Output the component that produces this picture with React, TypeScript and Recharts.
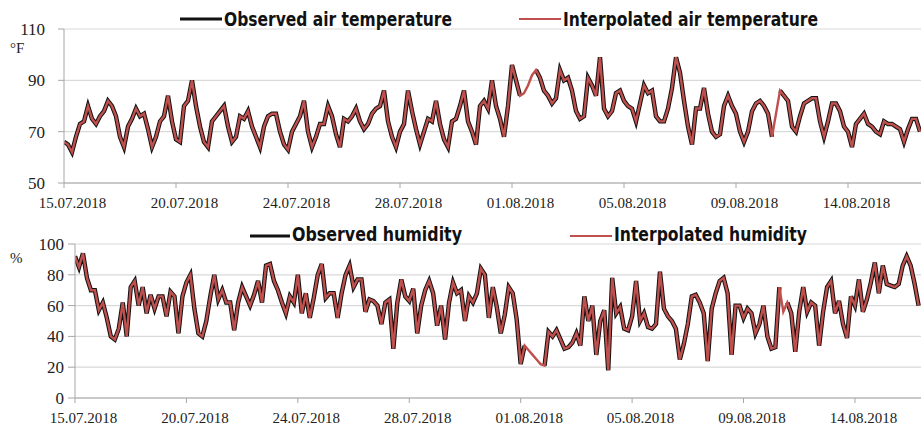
import { CartesianGrid, Legend, Line, LineChart, XAxis, YAxis } from "recharts";

const dateLabels = [
  "15.07.2018",
  "20.07.2018",
  "24.07.2018",
  "28.07.2018",
  "01.08.2018",
  "05.08.2018",
  "09.08.2018",
  "14.08.2018"
];
const dateTickIndex = [0, 28, 56, 84, 112, 140, 168, 196];

const tempTicks = [50, 70, 90, 110];
const humTicks = [0, 20, 40, 60, 80, 100];

// air temperature, °F (null = no observation)
const tempObserved = [
  66, 65, 62, 68, 73, 74, 80, 75, 73, 76,
  78, 82, 80, 76, 68, 64, 72, 75, 79, 76,
  77, 71, 64, 68, 74, 76, 84, 74, 67, 66,
  80, 82, 90, 80, 72, 66, 64, 74, 76, 78,
  80, 72, 66, 68, 76, 75, 78, 72, 68, 64,
  72, 76, 77, 77, 70, 65, 63, 70, 73, 76,
  82, 70, 64, 68, 73, 73, 80, 76, 69, 64,
  75, 74, 76, 79, 74, 71, 73, 77, 79, 80,
  86, 74, 68, 64, 70, 73, 86, 78, 71, 65,
  70, 75, 74, 82, 73, 67, 64, 74, 75, 80,
  86, 74, 70, 65, 80, 82, 79, 90, 80, 75,
  68, 80, 96, 90, 84, null, null, null, 94, 91,
  86, 84, 81, 83, 94, 90, 91, 86, 78, 75,
  76, 91, 88, 84, 99, 79, 76, 78, 85, 86,
  82, 80, 79, 74, 81, 88, 85, 86, 76, 74,
  74, 79, 87, 99, 93, 82, 72, 65, 79, 79,
  87, 77, 70, 68, 69, 80, 84, 80, 77, 70,
  66, 70, 78, 81, 82, 80, 77, 68, null, 86,
  84, 82, 72, 70, 76, 81, 82, 83, 83, 74,
  68, 74, 81, 81, 78, 72, 70, 64, 73, 75,
  77, 73, 72, 70, 69, 74, 73, 73, 72, 71,
  66, 71, 75, 75, 70
];
const tempGapIndex = [115, 116, 117, 178];
const tempGapValue = [85, 88, 92, 77];

// humidity, %
const humObserved = [
  92, 85, 94, 78, 70, 70, 57, 62, 52, 40,
  38, 45, 62, 40, 72, 76, 60, 72, 55, 67,
  58, 66, 66, 53, 69, 66, 42, 66, 75, 80,
  58, 42, 40, 50, 66, 80, 64, 70, 62, 62,
  44, 62, 72, 66, 60, 67, 76, 62, 86, 87,
  76, 70, 62, 55, 66, 62, 80, 55, 68, 52,
  65, 80, 87, 65, 68, 68, 52, 68, 80, 86,
  72, 77, 77, 56, 64, 63, 60, 48, 62, 64,
  32, 62, 77, 66, 63, 71, 42, 60, 70, 76,
  68, 47, 60, 38, 62, 75, 68, 70, 50, 66,
  62, 68, 84, 80, 52, 72, 59, 42, 54, 72,
  68, 51, 22, 34, null, null, null, null, 21, 43,
  40, 44, 38, 32, 33, 36, 42, 34, 66, 50,
  60, 28, 50, 57, 18, 78, 55, 59, 45, 44,
  53, 76, 50, 55, 46, 45, 48, 82, 58, 53,
  50, 45, 25, 35, 48, 66, 67, 62, 55, 24,
  58, 68, 76, 78, 68, 28, 60, 60, 52, 58,
  55, 42, 48, 60, 40, 32, 33, 72, null, 62,
  55, 30, 56, 72, 56, 62, 60, 34, 56, 72,
  76, 55, 63, 48, 39, 66, 60, 77, 56, 64,
  75, 88, 68, 86, 74, 73, 72, 74, 86, 92,
  86, 74, 60
];
const humGapIndex = [114, 115, 116, 117, 178];
const humGapValue = [31, 28, 25, 22, 56];

const OBS = "#111111";
const INTERP = "#c0504d";
const AXIS = "#a6a6a6";
const GRID = "#d9d9d9";
const SERIF = "Times New Roman, Liberation Serif, DejaVu Serif, serif";

function buildRows(observed: (number | null)[], gapIndex: number[], gapValue: number[]) {
  return observed.map((v, i) => {
    const g = gapIndex.indexOf(i);
    return { i, observed: v, interpolated: v ?? (g >= 0 ? gapValue[g] : null) };
  });
}

const tempRows = buildRows(tempObserved, tempGapIndex, tempGapValue);
const humRows = buildRows(humObserved, humGapIndex, humGapValue);

interface LegendItem {
  label: string;
  color: string;
  width: number;
  x1: number;
  x2: number;
  textLen: number;
}

function LegendRow({ items, lineY }: { items: LegendItem[]; lineY: number }) {
  return (
    <div style={{ height: 29, overflow: "visible" }}>
      <svg width={921} height={29} style={{ display: "block", overflow: "visible" }}>
        {items.map((it) => (
          <g key={it.label}>
            <line x1={it.x1} x2={it.x2} y1={lineY} y2={lineY} stroke={it.color} strokeWidth={it.width} />
            <text
              x={it.x2 + 2}
              y={26}
              fontFamily="DejaVu Sans"
              fontWeight={700}
              fontSize={20}
              fill="#111"
              textLength={it.textLen}
              lengthAdjust="spacingAndGlyphs"
            >
              {it.label}
            </text>
          </g>
        ))}
      </svg>
    </div>
  );
}

function DateTick(props: any) {
  const { x, y, payload } = props;
  const label = dateLabels[dateTickIndex.indexOf(payload.value)];
  return (
    <text x={x + 8.5} y={y + 18} textAnchor="middle" fontSize={15} style={{ fontFamily: SERIF }} fill="#222">
      {label}
    </text>
  );
}

function ValueTick(props: any) {
  const { x, y, payload } = props;
  return (
    <text x={x} y={y + 6} textAnchor="end" fontSize={17} style={{ fontFamily: SERIF }} fill="#222">
      {payload.value}
    </text>
  );
}

interface PanelProps {
  rows: { i: number; observed: number | null; interpolated: number | null }[];
  yDomain: [number, number];
  yTicks: number[];
  yWidth: number;
  yTickSize: number;
  yTickMargin: number;
  xMax: number;
  unit: string;
  unitX: number;
  unitY: number;
  legend: LegendItem[];
  legendLineY: number;
}

function Panel(p: PanelProps) {
  return (
    <LineChart width={921} height={215} data={p.rows} margin={{ top: 0, right: 0, bottom: 0, left: 0 }}>
      <Legend
        verticalAlign="top"
        align="left"
        content={() => <LegendRow items={p.legend} lineY={p.legendLineY} />}
      />
      <CartesianGrid vertical={false} stroke={GRID} strokeWidth={1.2} />
      <XAxis
        dataKey="i"
        type="number"
        domain={[0, p.xMax]}
        ticks={dateTickIndex}
        interval={0}
        height={32}
        stroke={AXIS}
        tickSize={5}
        tick={<DateTick />}
        allowDataOverflow
      />
      <YAxis
        domain={p.yDomain}
        ticks={p.yTicks}
        interval={0}
        width={p.yWidth}
        stroke={AXIS}
        tickSize={p.yTickSize}
        tickMargin={p.yTickMargin}
        tick={<ValueTick />}
        label={{
          value: p.unit,
          content: () => (
            <text x={p.unitX} y={p.unitY} fontSize={15} style={{ fontFamily: SERIF }} fill="#222">
              {p.unit}
            </text>
          )
        }}
      />
      <Line
        type="linear"
        dataKey="observed"
        stroke={OBS}
        strokeWidth={4.4}
        dot={false}
        activeDot={false}
        isAnimationActive={false}
      />
      <Line
        type="linear"
        dataKey="interpolated"
        stroke={INTERP}
        strokeWidth={2.4}
        dot={false}
        activeDot={false}
        isAnimationActive={false}
      />
    </LineChart>
  );
}

export default function App() {
  return (
    <div style={{ position: "absolute", left: 0, top: 0, width: 921, height: 430, background: "#fff" }}>
      <Panel
        rows={tempRows}
        yDomain={[50, 110]}
        yTicks={tempTicks}
        yWidth={64}
        yTickSize={6}
        yTickMargin={13}
        xMax={214.25}
        unit="°F"
        unitX={10}
        unitY={53}
        legendLineY={19}
        legend={[
          { label: "Observed air temperature", color: OBS, width: 3, x1: 180, x2: 222, textLen: 228 },
          { label: "Interpolated air temperature", color: INTERP, width: 1.8, x1: 519, x2: 561, textLen: 255 }
        ]}
      />
      <Panel
        rows={humRows}
        yDomain={[0, 100]}
        yTicks={humTicks}
        yWidth={75}
        yTickSize={7}
        yTickMargin={4}
        xMax={212.6}
        unit="%"
        unitX={10}
        unitY={48}
        legendLineY={21}
        legend={[
          { label: "Observed humidity", color: OBS, width: 3, x1: 250, x2: 290, textLen: 170 },
          { label: "Interpolated humidity", color: INTERP, width: 1.8, x1: 570, x2: 612, textLen: 193 }
        ]}
      />
    </div>
  );
}
